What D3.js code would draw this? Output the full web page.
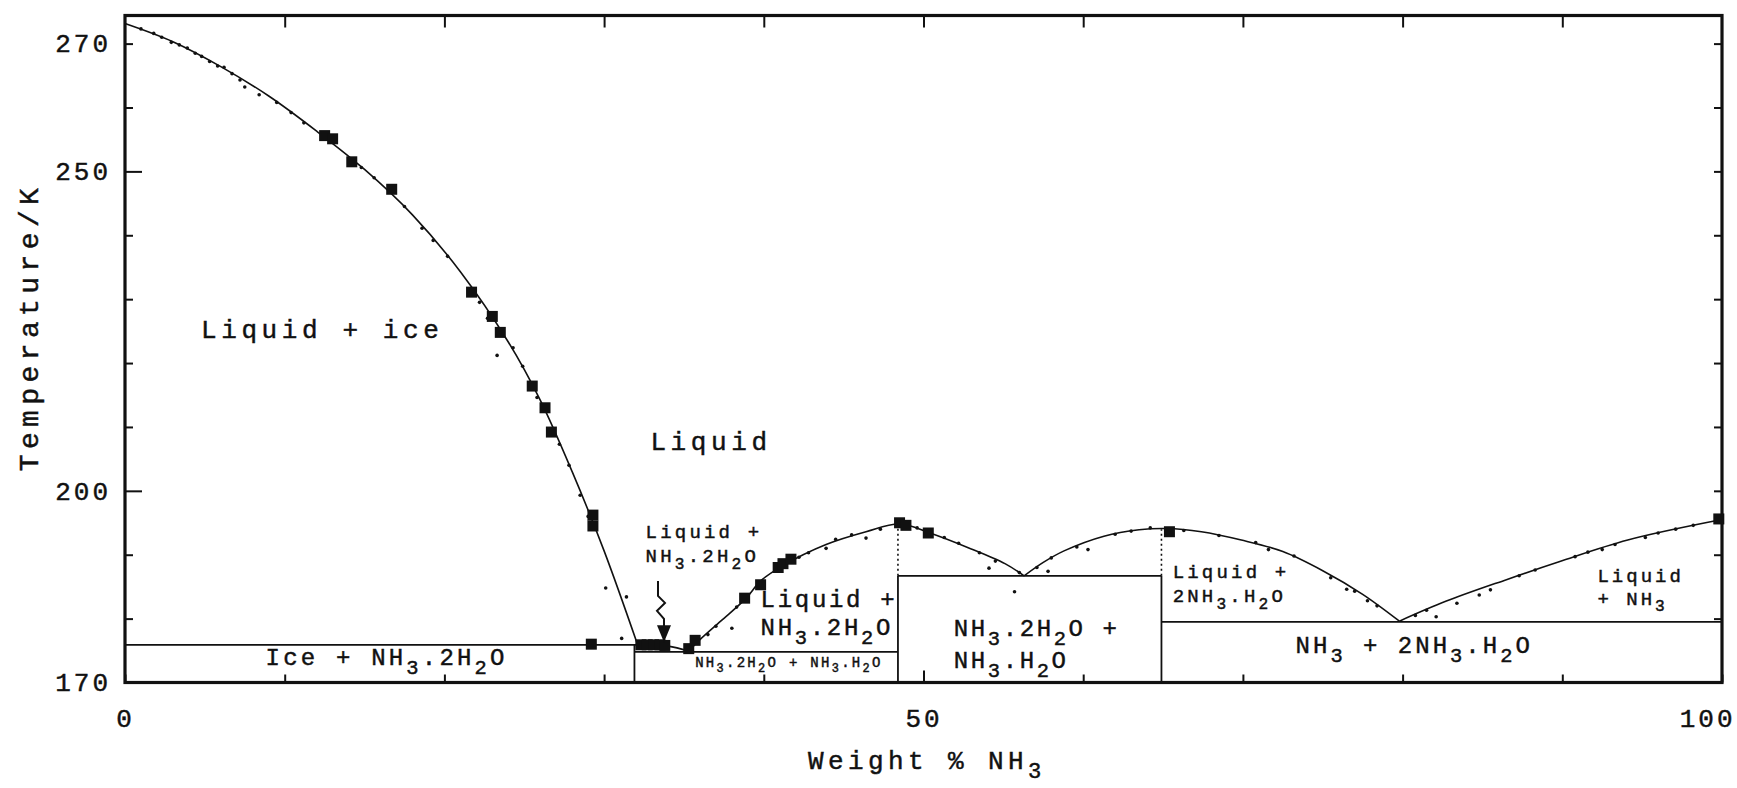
<!DOCTYPE html>
<html lang="en">
<head>
<meta charset="utf-8">
<title>NH3 - H2O phase diagram</title>
<script src="https://d3js.org/d3.v7.min.js"></script>
<style>
  body { margin: 0; background: #fff; }
  text { font-family: "Liberation Mono", "DejaVu Sans Mono", monospace; fill: #111; stroke: #111; stroke-width: 0.45px; }
</style>
</head>
<body>
<div id="chart"></div>
<script>
// liquidus curves, [weight % NH3, T / K]
const iceLiquidus = [[0, 273.15], [3, 270.3], [6, 266.4], [9, 261.8], [12, 256.3], [15, 250.3], [18, 243.2],
  [21, 234.3], [24, 223.3], [26, 214.2], [28, 203], [30, 190.6], [32.1, 175.9]];
const adhLiquidus = [[32.1, 175.9], [34, 175.7], [35.3, 174.9]];
const amhLiquidus = [[35.3, 174.9], [36, 176.7], [37.3, 179.6], [38.9, 183.2], [39.8, 185.9], [41.2, 188.3],
  [43.9, 191.6], [46.4, 193.6], [48.5, 194.8], [50.4, 193.4], [52.8, 191.1], [55.1, 188.6], [56.3, 186.7]];
const ahhLiquidus = [[56.3, 186.7], [57.5, 188.8], [58.8, 190.6], [61.3, 192.9], [63.5, 193.9], [65.2, 194.1],
  [67.4, 193.6], [69.9, 192.3], [72.5, 190.5], [75, 187.5], [77.5, 183.8], [79.8, 179.6]];
const nh3Liquidus = [[79.8, 179.6], [82.7, 182.7], [86.5, 186.1], [89.8, 188.9], [94.1, 192.3], [100, 195.5]];

// solid phase boundaries: [w1, T1, w2, T2, dotted]
const phaseLines = [
  [0, 175.9, 32.1, 175.9, 0],
  [31.9, 170, 31.9, 175.9, 0],
  [31.9, 174.8, 48.4, 174.8, 0],
  [48.4, 170, 48.4, 186.7, 0],
  [48.4, 186.7, 48.4, 194.8, 1],
  [48.4, 186.7, 64.9, 186.7, 0],
  [64.9, 170, 64.9, 186.7, 0],
  [64.9, 186.7, 64.9, 194.0, 1],
  [64.9, 179.5, 100, 179.5, 0]
];

// measured points
const squares = [[12.5, 255.6], [13.0, 255.1], [14.2, 251.5], [16.7, 247.2], [21.7, 231.1], [23.0, 227.3],
  [23.5, 224.8], [25.5, 216.4], [26.3, 213.0], [26.7, 209.2], [29.3, 196.2], [29.3, 194.5], [29.2, 176.0],
  [32.3, 175.9], [32.7, 175.9], [33.1, 175.9], [33.5, 175.9], [33.8, 175.8], [35.3, 175.3], [35.7, 176.6],
  [38.8, 183.2], [39.8, 185.3], [40.9, 188.0], [41.2, 188.6], [41.7, 189.3], [48.5, 195.0], [48.9, 194.6],
  [50.3, 193.4], [65.4, 193.6], [99.8, 195.6]];
const dots = [[1, 272.3], [1.8, 271.6], [2.3, 271.0], [2.9, 270.2], [3.4, 269.8], [3.9, 269.3], [4.4, 268.5],
  [4.8, 268.0], [5.3, 267.2], [5.8, 266.5], [6.2, 266.3], [6.7, 265.3], [7.2, 264.3], [7.5, 263.2], [8.4, 262.0],
  [9.5, 260.8], [10.4, 259.2], [11.2, 257.6], [14.8, 250.6], [15.6, 249.0], [17.5, 244.5], [18.6, 241.1],
  [19.3, 239.2], [20.2, 236.7], [22.2, 229.5], [22.7, 227.0], [23.3, 221.2], [24.3, 222.4], [24.9, 219.5],
  [25.8, 214.6], [27.2, 207.3], [27.8, 204.0], [28.5, 199.3], [29.0, 196.0], [30.1, 184.8], [31.1, 176.9],
  [31.4, 183.4], [36.5, 177.5], [37.0, 178.8], [38.0, 178.5], [38.3, 181.8], [42.2, 189.6], [42.8, 190.3],
  [43.9, 191.0], [44.5, 192.4], [45.5, 193.1], [46.4, 192.6], [47.3, 194.0], [49.6, 194.2], [51.3, 192.7],
  [52.2, 191.8], [53.5, 190.3], [54.1, 187.9], [54.5, 189.0], [55.7, 184.2], [56.0, 187.2], [57.1, 188.0],
  [57.8, 187.4], [58.0, 189.5], [59.6, 191.2], [60.3, 190.8], [62.0, 193.2], [63.0, 193.7], [64.2, 194.2],
  [66.3, 193.8], [68.5, 193.0], [70.8, 191.9], [71.6, 190.8], [73.2, 189.8], [75.5, 186.4], [76.5, 184.6],
  [77.0, 184.3], [77.8, 182.8], [78.4, 182.0], [80.8, 180.5], [81.5, 181.3], [82.1, 180.3], [83.4, 182.4],
  [84.8, 183.7], [85.5, 184.5], [87.3, 186.7], [88.3, 187.6], [90.8, 189.7], [91.6, 190.4], [92.5, 190.8],
  [93.3, 191.6], [95.2, 192.7], [96.0, 193.4], [97.1, 194.0], [98.2, 194.6]];

// axis ticks
const tempTicks = d3.range(170, 271, 10);
const tempLabels = [170, 200, 250, 270];
const tempMajor = [200, 250];
const wtTicks = d3.range(0, 101, 10);
const wtLabels = [0, 50, 100];

// region labels: [w, T, lines, font size, letter spacing, line gap]
const regionLabels = [
  [4.76, 223.9, ["Liquid + ice"], 26, 4.6, 0],
  [32.9, 206.4, ["Liquid"], 26, 4.6, 0],
  [32.6, 192.6, ["Liquid +", "NH_3.2H_2O"], 19, 3.2, 24],
  [39.8, 181.8, ["Liquid +", "NH_3.2H_2O"], 24, 2.7, 28],
  [35.7, 172.4, ["NH_3.2H_2O + NH_3.H_2O"], 14, 2.3, 0],
  [51.9, 177.3, ["NH_3.2H_2O +", "NH_3.H_2O"], 24, 2.6, 32],
  [65.6, 186.3, ["Liquid +", "2NH_3.H_2O"], 19, 3.2, 24],
  [92.2, 185.8, ["Liquid", "+ NH_3"], 19, 3.0, 23],
  [73.3, 174.6, ["NH_3 + 2NH_3.H_2O"], 24, 3.0, 0],
  [8.8, 172.7, ["Ice + NH_3.2H_2O"], 24, 3.2, 0]
];

const width = 1737, height = 788;
const x = d3.scaleLinear().domain([0, 100]).range([125, 1722]);
const y = d3.scaleLinear().domain([170, 274.4]).range([682.5, 15.5]);

const svg = d3.select("#chart").append("svg")
  .attr("width", width).attr("height", height);

// axes (ticks point inward)
const left = svg.append("g").attr("transform", `translate(${x(0)},0)`)
  .call(d3.axisLeft(y).tickValues(tempTicks).tickSizeInner(-8).tickSizeOuter(0).tickPadding(14)
    .tickFormat(d => tempLabels.includes(d) ? d : ""));
left.selectAll(".tick line").attr("x2", d => tempMajor.includes(d) ? 17 : 8);
svg.append("g").attr("transform", `translate(${x(100)},0)`)
  .call(d3.axisLeft(y).tickValues(tempTicks).tickSizeInner(8).tickSizeOuter(0).tickFormat(""));
const bottom = svg.append("g").attr("transform", `translate(0,${y(170)})`)
  .call(d3.axisBottom(x).tickValues(wtTicks).tickSizeInner(-8).tickSizeOuter(0).tickPadding(26)
    .tickFormat(d => wtLabels.includes(d) ? d : ""));
bottom.selectAll(".tick line").attr("y2", d => d === 50 ? -12 : -8);
bottom.selectAll(".tick text").filter(d => d === 100)
  .attr("text-anchor", "end").attr("x", 1735 - x(100));
svg.append("g").attr("transform", `translate(0,${y(274.4)})`)
  .call(d3.axisTop(x).tickValues(wtTicks.slice(1, -1)).tickSizeInner(-12).tickSizeOuter(0).tickFormat(""));

svg.selectAll(".domain").remove();
svg.selectAll(".tick line").attr("stroke", "#111").attr("stroke-width", 2);
svg.selectAll(".tick text").filter(d => tempLabels.includes(d) || wtLabels.includes(d))
  .style("font-family", '"Liberation Mono", monospace')
  .style("font-size", "26px").style("letter-spacing", "3px").attr("fill", "#111");
svg.selectAll(".tick text").filter(function () { return this.textContent === ""; }).remove();

// frame
svg.append("rect")
  .attr("x", x(0)).attr("y", y(274.4))
  .attr("width", x(100) - x(0)).attr("height", y(170) - y(274.4))
  .attr("fill", "none").attr("stroke", "#111").attr("stroke-width", 3.2);

// phase boundaries
svg.append("g").selectAll("line").data(phaseLines).join("line")
  .attr("x1", d => x(d[0])).attr("y1", d => y(d[1]))
  .attr("x2", d => x(d[2])).attr("y2", d => y(d[3]))
  .attr("stroke", "#111").attr("stroke-width", d => d[4] ? 1.6 : 1.8)
  .attr("stroke-dasharray", d => d[4] ? "2,3" : null);

// liquidus curves
const line = d3.line().x(d => x(d[0])).y(d => y(d[1])).curve(d3.curveCatmullRom.alpha(0.5));
svg.append("g").selectAll("path")
  .data([iceLiquidus, adhLiquidus, amhLiquidus, ahhLiquidus, nh3Liquidus]).join("path")
  .attr("d", line).attr("fill", "none").attr("stroke", "#111").attr("stroke-width", 1.6);

// measured points
svg.append("g").selectAll("circle").data(dots).join("circle")
  .attr("cx", d => x(d[0])).attr("cy", d => y(d[1])).attr("r", 1.8).attr("fill", "#111");
svg.append("g").selectAll("rect").data(squares).join("rect")
  .attr("x", d => x(d[0]) - 5.5).attr("y", d => y(d[1]) - 5.5)
  .attr("width", 11).attr("height", 11).attr("fill", "#111");

// text with "_" marking a subscript character
function writeText(sel, str, fs) {
  const parts = str.split(/(_.)/).filter(s => s.length);
  let shift = 0;
  parts.forEach(p => {
    if (p[0] === "_") {
      sel.append("tspan").attr("dy", fs * 0.36 - shift)
        .style("font-size", (fs * 0.85) + "px").text(p[1]);
      shift = fs * 0.36;
    } else {
      sel.append("tspan").attr("dy", -shift).text(p);
      shift = 0;
    }
  });
}

const labels = svg.append("g");
regionLabels.forEach(([w, t, lines, fs, ls, gap]) => {
  lines.forEach((s, i) => {
    const tx = labels.append("text")
      .attr("x", x(w)).attr("y", y(t) + i * gap)
      .style("font-size", fs + "px").style("letter-spacing", ls + "px");
    writeText(tx, s, fs);
  });
});

// arrow pointing into the small Liquid + NH3.2H2O field
const ax = x(33.5), aTop = y(185.9), aTip = y(176.3);
svg.append("path")
  .attr("d", `M${ax - 2},${aTop} L${ax - 2},${aTop + 15} L${ax + 5},${aTop + 22} L${ax - 3},${aTop + 30} L${ax + 4},${aTop + 38} L${ax + 4},${aTip - 10}`)
  .attr("fill", "none").attr("stroke", "#111").attr("stroke-width", 2);
svg.append("path")
  .attr("d", `M${ax - 3},${aTip - 17} L${ax + 11},${aTip - 17} L${ax + 4},${aTip} Z`)
  .attr("fill", "#111");

// axis titles
const xt = svg.append("text").attr("x", 808).attr("y", 769)
  .style("font-size", "26px").style("letter-spacing", "4.4px");
writeText(xt, "Weight % NH_3", 26);
svg.append("text")
  .attr("transform", "translate(38,327) rotate(-90)")
  .attr("text-anchor", "middle")
  .style("font-size", "28px").style("letter-spacing", "5.4px")
  .text("Temperature/K");
</script>
</body>
</html>
